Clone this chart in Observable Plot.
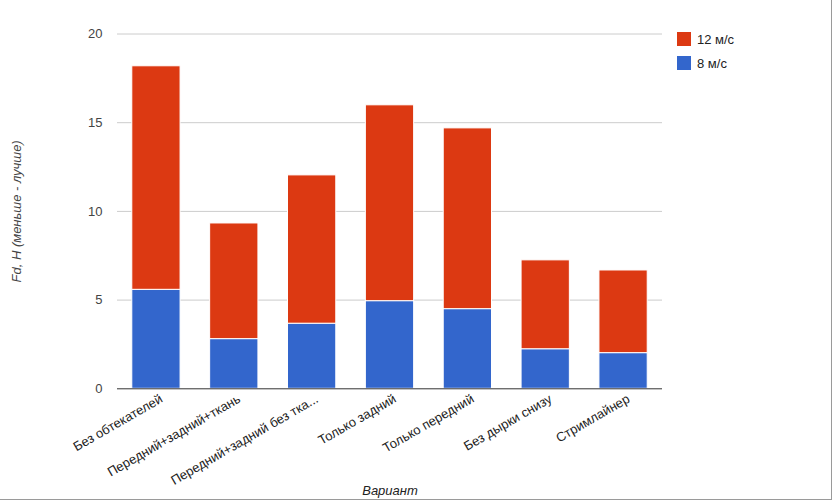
<!DOCTYPE html>
<html>
<head>
<meta charset="utf-8">
<script src="https://cdn.jsdelivr.net/npm/d3@7"></script>
<script src="https://cdn.jsdelivr.net/npm/@observablehq/plot@0.6"></script>
<style>
  body { margin: 0; background: #fff; }
  #wrap { position: relative; width: 831px; height: 499px; border-right: 1px solid #9a9a9a; border-bottom: 1px solid #9a9a9a; font-family: Arial, "Liberation Sans", sans-serif; }
  #wrap svg { position: absolute; left: 0; top: 0; }
  g[aria-label="y-axis label"] text, g[aria-label="x-axis label"] text { font-style: italic; }
  .legend { position: absolute; left: 677px; top: 32px; font-size: 13px; color: #222; }
  .legend .item { display: flex; align-items: center; height: 14px; margin-bottom: 10px; }
  .legend .sw { width: 14px; height: 14px; margin-right: 6px; }
</style>
</head>
<body>
<div id="wrap"></div>
<script>
const categories = ["Без обтекателей", "Передний+задний+ткань", "Передний+задний без тка...", "Только задний", "Только передний", "Без дырки снизу", "Стримлайнер"];
const v8 = [5.58, 2.80, 3.67, 4.94, 4.49, 2.23, 2.01];
const v12 = [12.60, 6.52, 8.36, 11.04, 10.19, 5.01, 4.66];
const seriesNames = ["8 м/с", "12 м/с"];
const seriesColors = ["#3366cc", "#dc3912"];
const yTicks = [0, 5, 10, 15, 20];
const yLabel = "Fd, H (меньше - лучше)";
const xLabel = "Вариант";

const data = categories.flatMap((c, i) => [
  {cat: c, series: seriesNames[0], value: v8[i]},
  {cat: c, series: seriesNames[1], value: v12[i]}
]);

const chart = Plot.plot({
  width: 831,
  height: 499,
  marginLeft: 117,
  marginRight: 169,
  marginTop: 33.5,
  marginBottom: 110.7,
  style: {fontFamily: 'Arial, "Liberation Sans", sans-serif', fontSize: "13px", background: "transparent"},
  x: {type: "band", domain: categories, paddingInner: 0.38, paddingOuter: 0.19, round: false},
  y: {domain: [0, 20]},
  color: {domain: seriesNames, range: seriesColors},
  marks: [
    Plot.gridY(yTicks.filter(d => d > 0), {stroke: "#cccccc", strokeOpacity: 1}),
    Plot.barY(data, {x: "cat", y: "value", fill: "series", stroke: "white", strokeWidth: 1}),
    Plot.ruleY([0], {stroke: "#333"}),
    Plot.axisY({ticks: yTicks, tickSize: 0, tickPadding: 15, color: "#444", fontSize: 13, label: yLabel, labelAnchor: "center", labelArrow: "none", labelOffset: 106}),
    Plot.axisX({tickSize: 0, tickPadding: 9, dx: 5, tickRotate: -30, color: "#222", fontSize: 13, label: null}),
    Plot.axisX({ticks: [], tickSize: 0, label: xLabel, labelAnchor: "center", labelArrow: "none", labelOffset: 106, color: "#222", fontSize: 13})
  ]
});
document.getElementById("wrap").appendChild(chart);

const legend = document.createElement("div");
legend.className = "legend";
[1, 0].forEach(i => {
  const item = document.createElement("div");
  item.className = "item";
  const sw = document.createElement("div");
  sw.className = "sw";
  sw.style.background = seriesColors[i];
  const t = document.createElement("span");
  t.textContent = seriesNames[i];
  item.appendChild(sw);
  item.appendChild(t);
  legend.appendChild(item);
});
document.getElementById("wrap").appendChild(legend);
</script>
</body>
</html>
